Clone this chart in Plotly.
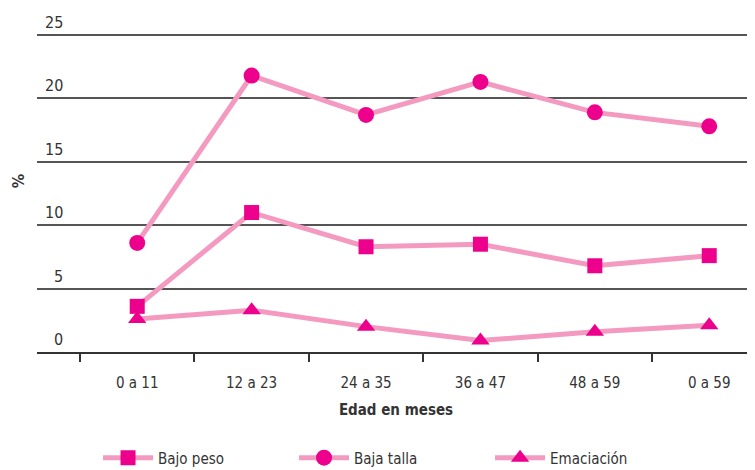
import plotly.graph_objects as go

categories = ["0 a 11", "12 a 23", "24 a 35", "36 a 47", "48 a 59", "0 a 59"]
bajo_peso = [3.6, 11.0, 8.3, 8.5, 6.8, 7.6]
baja_talla = [8.6, 21.8, 18.7, 21.3, 18.9, 17.8]
emaciacion = [2.6, 3.3, 2.0, 0.9, 1.6, 2.1]
y_ticks = [0, 5, 10, 15, 20, 25]
y_tick_labels = ["0", "5", "10", "15", "20", "25"]

FONT = "DejaVu Sans Condensed, Liberation Sans Narrow, sans-serif"
LINE = "#F49AC1"
MARK = "#EC008C"
TXT = "#333333"

fig = go.Figure()
series = [("Bajo peso", bajo_peso, "square", 15),
          ("Baja talla", baja_talla, "circle", 16),
          ("Emaciación", emaciacion, "triangle-up", 16)]
for name, vals, sym, size in series:
    fig.add_trace(go.Scatter(
        x=categories, y=vals, name=name, mode="lines+markers",
        line=dict(color=LINE, width=5),
        marker=dict(symbol=sym, size=size, color=MARK),
    ))

for v, lab in zip(y_ticks, y_tick_labels):
    fig.add_annotation(x=0.039, y=v, xref="paper", yref="y", text=lab,
                       showarrow=False, xanchor="right", yanchor="bottom",
                       yshift=1, font=dict(family=FONT, size=16, color=TXT))

fig.add_annotation(x=-0.026, y=13.5, xref="paper", yref="y", text="<b>%</b>",
                   textangle=-90, showarrow=False, xanchor="center", yanchor="middle",
                   font=dict(family=FONT, size=16, color=TXT))

fig.update_layout(
    width=747, height=462,
    margin=dict(l=29, r=0, t=26, b=118, autoexpand=False),
    paper_bgcolor="white", plot_bgcolor="white",
    font=dict(family=FONT, size=15, color=TXT),
    xaxis=dict(type="category", range=[-0.876, 5.4], tickson="boundaries",
               ticks="outside", ticklen=8, tickwidth=1.5, tickcolor=TXT,
               showline=True, linecolor=TXT, linewidth=1.5, showgrid=False,
               ticklabelstandoff=16,
               tickfont=dict(family=FONT, size=15, color=TXT),
               title=dict(text="<b>Edad en meses</b>", standoff=14,
                          font=dict(family=FONT, size=15, color=TXT))),
    yaxis=dict(range=[0, 25.08], tickvals=y_ticks, showticklabels=False,
               showgrid=True, gridcolor="#555555", gridwidth=1.5,
               zeroline=False),
    legend=dict(orientation="h", x=0.085, y=-0.333, xanchor="left", yanchor="middle",
                entrywidth=131, entrywidthmode="pixels", itemwidth=50,
                font=dict(family=FONT, size=15, color=TXT)),
    showlegend=True,
)

fig.write_html("out.html")
